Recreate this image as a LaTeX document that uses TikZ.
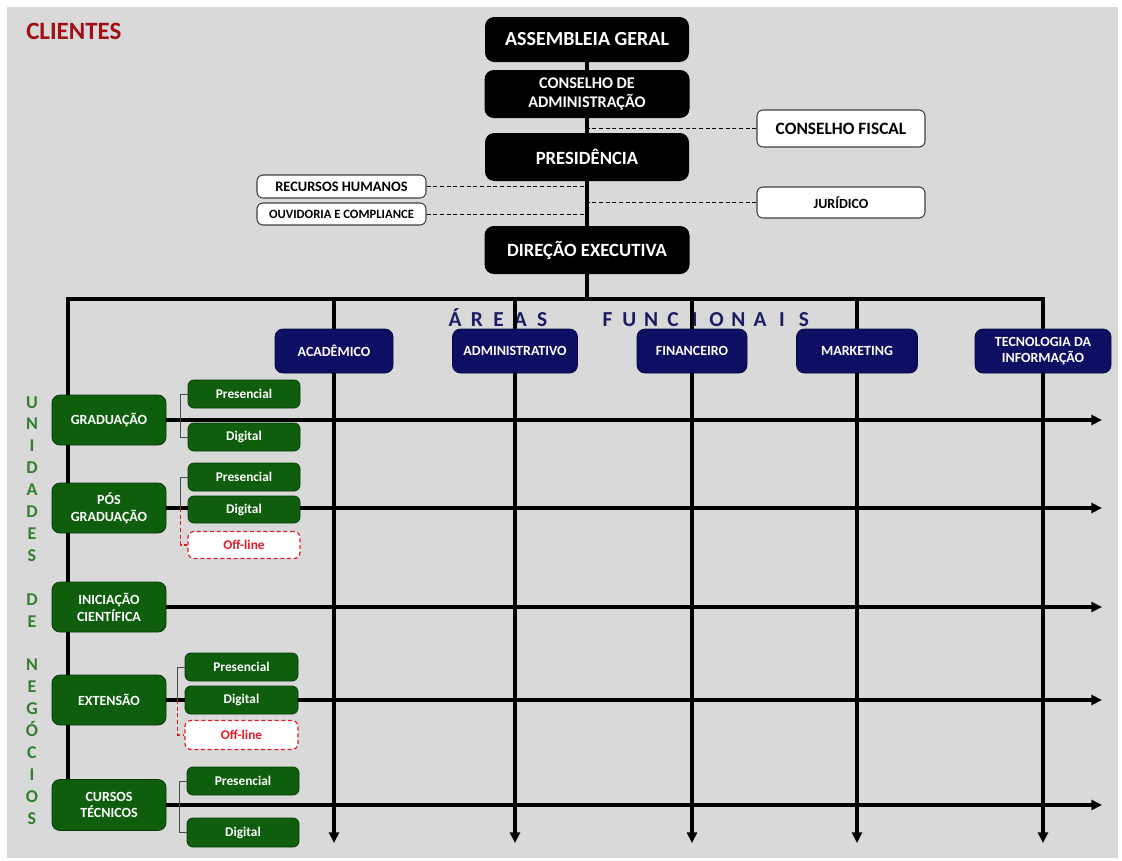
\documentclass[tikz,border=0pt]{standalone}
\usepackage{fontspec}
\setmainfont{Carlito}
\usetikzlibrary{arrows.meta}
\definecolor{bggray}{RGB}{217,217,217}
\definecolor{navy}{RGB}{14,14,98}
\definecolor{navytxt}{RGB}{28,28,100}
\definecolor{dgreen}{RGB}{14,94,14}
\definecolor{dgreenb}{RGB}{8,58,8}
\definecolor{lgreen}{RGB}{52,125,52}
\definecolor{clred}{RGB}{160,14,22}
\definecolor{offred}{RGB}{225,30,40}
\definecolor{wbord}{RGB}{64,64,64}
\begin{document}
\begin{tikzpicture}[x=0.75pt,y=-0.75pt,
 sz/.style 2 args={minimum width=#1*0.75pt,minimum height=#2*0.75pt},
 box/.style={inner sep=0pt,align=center},
 blk/.style={box,fill=black,text=white,rounded corners=7pt},
 wht/.style={box,fill=white,draw=wbord,line width=0.8pt,rounded corners=4.5pt,text=black},
 blu/.style={box,fill=navy,draw=navy!70!black,line width=0.6pt,text=white,rounded corners=6pt},
 grn/.style={box,fill=dgreen,draw=dgreenb,line width=0.6pt,text=white,rounded corners=6pt},
 sub/.style={grn,rounded corners=4.5pt},
 off/.style={box,fill=white,draw=offred,line width=0.9pt,dash pattern=on 3pt off 2pt,rounded corners=4.5pt,text=offred},
 main/.style={line width=2.3pt,black},
 arr/.style={main,-{Triangle[length=8pt,width=7.5pt]}},
 dconn/.style={line width=0.7pt,black,dash pattern=on 3pt off 2pt},
 brk/.style={line width=0.6pt,black!70},
 rbrk/.style={line width=0.8pt,offred,dash pattern=on 3pt off 2pt},
 fA/.style={font=\bfseries\fontsize{#1pt}{1.2\dimexpr#1pt\relax}\selectfont},
]
\path[use as bounding box] (0,0) rectangle (1122,861);
\fill[bggray] (7,7) rectangle (1118,858);

\node[anchor=west,inner sep=0pt,text=clred,fA=18.7] (cl) at (26,31) {CLIENTES};

% governance
\node[blk,sz={204}{45},fA=15] (ag) at (587,39.5) {ASSEMBLEIA GERAL};
\node[blk,sz={205}{48},fA=12.2] (ca) at (587,94) {CONSELHO DE\\ADMINISTRAÇÃO};
\node[blk,sz={204}{48},fA=14] (pr) at (587,157) {PRESIDÊNCIA};
\node[blk,sz={205}{48},fA=14] (de) at (587,250) {DIREÇÃO EXECUTIVA};

\node[wht,sz={168}{37},fA=13] (cf) at (841,128.5) {CONSELHO FISCAL};
\node[wht,sz={168}{31},fA=10.5] (jur) at (841,202.5) {JURÍDICO};
\node[wht,sz={169}{23},fA=10.8] (rh) at (341.5,186.5) {RECURSOS HUMANOS};
\node[wht,sz={169}{22},fA=9.5] (ouv) at (341.5,214) {OUVIDORIA E COMPLIANCE};

\coordinate (L) at (68,299);
\coordinate (ex) at (1102,0);
\coordinate (ey) at (0,843);

\draw[main] (ag) -- (ca);
\draw[main] (ca) -- (pr);
\draw[main] (pr) -- (de);
\draw[main] (de.south) -- (de.south |- L);
\draw[dconn] (cf.west) -- (cf.west -| ca.south);
\draw[dconn] (jur.west) -- (jur.west -| pr.south);
\draw[dconn] (rh.east) -- (rh.east -| pr.south);
\draw[dconn] (ouv.east) -- (ouv.east -| pr.south);

% functional areas
\node[blu,sz={118}{44},fA=10.5] (a1) at (334,351) {ACADÊMICO};
\node[blu,sz={125}{44},fA=10.5] (a2) at (515,351) {ADMINISTRATIVO};
\node[blu,sz={110}{44},fA=10.5] (a3) at (692,351) {FINANCEIRO};
\node[blu,sz={121}{44},fA=10.5] (a4) at (857,351) {MARKETING};
\node[blu,sz={136}{44},fA=10.5] (a5) at (1043,351) {TECNOLOGIA DA\\INFORMAÇÃO};

\foreach \ch/\k in {Á/0,R/1,E/2,A/3,S/4,F/7,U/8,N/9,C/10,I/11,O/12,N/13,A/14,I/15,S/16}
  \node[anchor=base,inner sep=0pt,text=navytxt,fA=16] (af\k) at (455+21.8*\k,326) {\ch};

% business units
\node[grn,sz={114}{50},fA=10.5] (u1) at (109,420) {GRADUAÇÃO};
\node[grn,sz={114}{50},fA=10.5] (u2) at (109,508) {PÓS\\GRADUAÇÃO};
\node[grn,sz={114}{50},fA=10.5] (u3) at (109,607) {INICIAÇÃO\\CIENTÍFICA};
\node[grn,sz={114}{50},fA=10.5] (u4) at (109,700) {EXTENSÃO};
\node[grn,sz={114}{51},fA=10.5] (u5) at (109,805) {CURSOS\\TÉCNICOS};

\node[sub,sz={112}{28},fA=10] (g1p) at (244,394) {Presencial};
\node[sub,sz={112}{28},fA=10] (g1d) at (244,437) {Digital};
\node[sub,sz={112}{28},fA=10] (g2p) at (244,477) {Presencial};
\node[sub,sz={112}{27},fA=10] (g2d) at (244,509.5) {Digital};
\node[off,sz={112}{27},fA=10] (g2o) at (244,545) {Off-line};
\node[sub,sz={113}{28},fA=10] (g4p) at (241.5,667) {Presencial};
\node[sub,sz={113}{28},fA=10] (g4d) at (241.5,700) {Digital};
\node[off,sz={113}{29},fA=10] (g4o) at (241.5,735) {Off-line};
\node[sub,sz={112}{28},fA=10] (g5p) at (243,781) {Presencial};
\node[sub,sz={112}{29},fA=10] (g5d) at (243,832.5) {Digital};

\foreach \ch/\k in {U/0,N/1,I/2,D/3,A/4,D/5,E/6,S/7,D/9,E/10,N/12,E/13,G/14,Ó/15,C/16,I/17,O/18,S/19}
  \node[anchor=base,inner sep=0pt,text=lgreen,fA=13.5] (un\k) at (32,408+21.9*\k) {\ch};

% frame lines
\draw[main,line join=miter] (L |- u1.north) -- (L) -- (L -| a5.north) -- (a5.north);
\foreach \a in {a1,a2,a3,a4}
  \draw[main] (\a.north |- L) -- (\a.north);
\foreach \a in {a1,a2,a3,a4,a5}
  \draw[arr] (\a.south) -- (\a.south |- ey);
\draw[main] (L |- u1.south) -- (L |- u2.north);
\draw[main] (L |- u2.south) -- (L |- u3.north);
\draw[main] (L |- u3.south) -- (L |- u4.north);
\draw[main] (L |- u4.south) -- (L |- u5.north);

% unit arrows
\draw[arr] (u1.east) -- (u1.east -| ex);
\draw[main] (u2.east) -- (u2.east -| g2d.west);
\draw[arr] (u2.east -| g2d.east) -- (u2.east -| ex);
\draw[arr] (u3.east) -- (u3.east -| ex);
\draw[main] (u4.east) -- (u4.east -| g4d.west);
\draw[arr] (u4.east -| g4d.east) -- (u4.east -| ex);
\draw[arr] (u5.east) -- (u5.east -| ex);

% brackets
\draw[brk] (g1p.west) -- ++(-7,0) |- (g1d.west);
\draw[brk] (g2p.west) -- ++(-7,0) coordinate (b2) -- (b2 |- u2.east);
\draw[rbrk] (b2 |- u2.east) |- (g2o.west);
\draw[brk] (g4p.west) -- ++(-7,0) coordinate (b4) -- (b4 |- u4.east);
\draw[rbrk] (b4 |- u4.east) |- (g4o.west);
\draw[brk] (g5p.west) -- ++(-7,0) |- (g5d.west);
\end{tikzpicture}
\end{document}
